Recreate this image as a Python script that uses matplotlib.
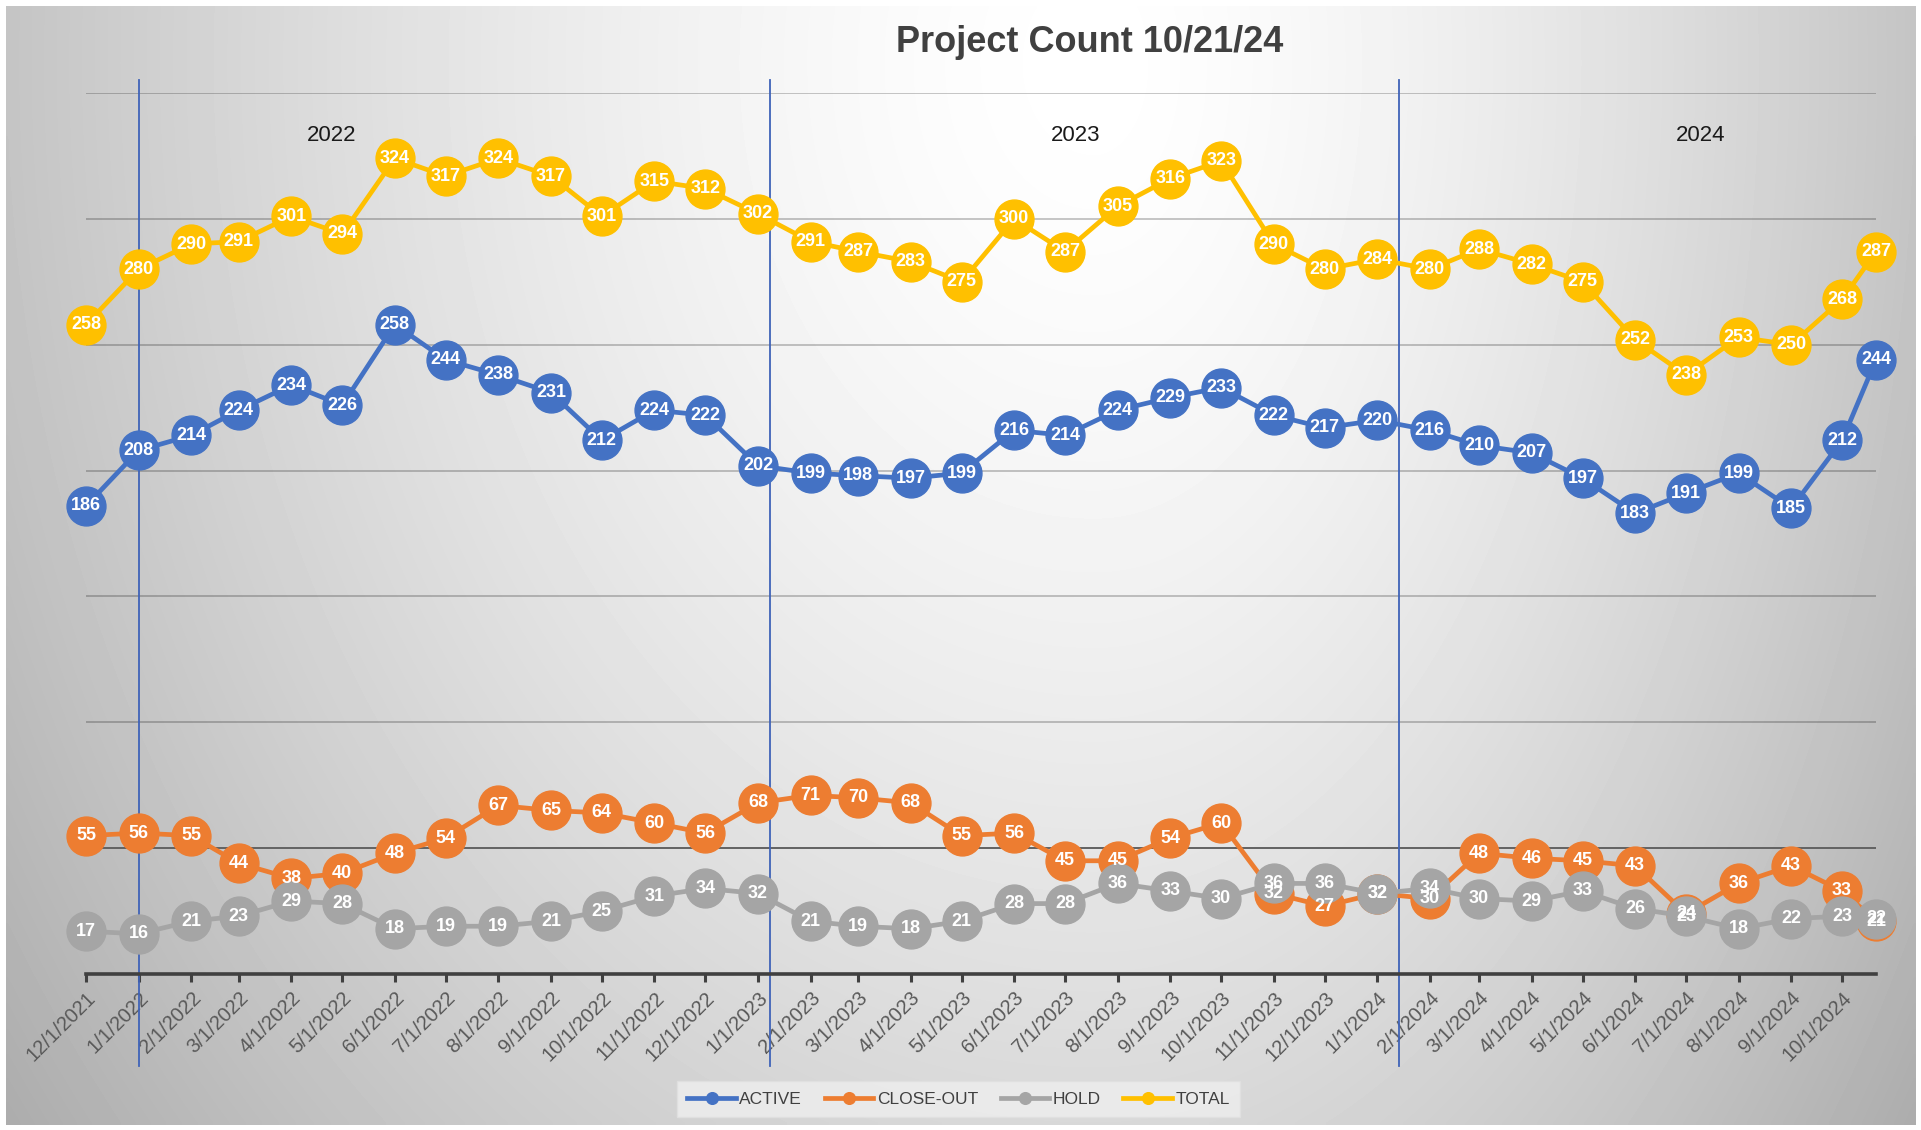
import numpy as np
import pandas as pd
import matplotlib
matplotlib.use("Agg")
import matplotlib.pyplot as plt
import matplotlib.dates as mdates
import matplotlib.transforms as mtrans

# report dates: first of each month, plus the current report date
dates = list(pd.date_range("2021-12-01", "2024-10-01", freq="MS")) + [pd.Timestamp("2024-10-21")]

active = [186, 208, 214, 224, 234, 226, 258, 244, 238, 231, 212, 224, 222, 202, 199, 198, 197, 199,
          216, 214, 224, 229, 233, 222, 217, 220, 216, 210, 207, 197, 183, 191, 199, 185, 212, 244]
close_out = [55, 56, 55, 44, 38, 40, 48, 54, 67, 65, 64, 60, 56, 68, 71, 70, 68, 55,
             56, 45, 45, 54, 60, 32, 27, 32, 30, 48, 46, 45, 43, 24, 36, 43, 33, 21]
hold = [17, 16, 21, 23, 29, 28, 18, 19, 19, 21, 25, 31, 34, 32, 21, 19, 18, 21,
        28, 28, 36, 33, 30, 36, 36, 32, 34, 30, 29, 33, 26, 23, 18, 22, 23, 22]
total = [258, 280, 290, 291, 301, 294, 324, 317, 324, 317, 301, 315, 312, 302, 291, 287, 283, 275,
         300, 287, 305, 316, 323, 290, 280, 284, 280, 288, 282, 275, 252, 238, 253, 250, 268, 287]

series_names = ["ACTIVE", "CLOSE-OUT", "HOLD", "TOTAL"]
series_vals = [active, close_out, hold, total]
colors = ["#4472C4", "#ED7D31", "#A5A5A5", "#FFC000"]

year_labels = ["2022", "2023", "2024"]
year_lines = [pd.Timestamp("2022-01-01"), pd.Timestamp("2023-01-08"), pd.Timestamp("2024-01-14")]

plt.rcParams["font.family"] = ["Liberation Sans", "DejaVu Sans"]

fig = plt.figure(figsize=(19.21, 11.30), dpi=100)
fig.patch.set_facecolor("white")

# grey radial-ish background like the Excel chart area
bg = fig.add_axes([0.003, 0.004, 0.994, 0.991], zorder=-10)
gx, gy = np.meshgrid(np.linspace(0, 1, 400), np.linspace(1, 0, 240))
cx = 0.57
dx = np.where(gx < cx, (gx - cx) / cx, (gx - cx) / (1 - cx))
dy = (0.95 - gy) * 0.8
d = np.sqrt(dx ** 2 + dy ** 2)
v = np.clip(1 - 0.23 * d ** 1.5, 0, 1)
bg.imshow(v, cmap="gray", vmin=0, vmax=1, aspect="auto", interpolation="bilinear")
bg.axis("off")

ax = fig.add_axes([0.0448, 0.138, 0.9318, 0.7797])
ax.patch.set_alpha(0)

for i, (name, vals, c) in enumerate(zip(series_names, series_vals, colors)):
    ax.plot(dates, vals, color=c, lw=3.4, marker="o", ms=28, mec=c, mfc=c,
            label=name, zorder=3 + i, clip_on=False, solid_joinstyle="round")

for vals in series_vals:
    for x, y in zip(dates, vals):
        ax.text(x, y, str(y), color="white", fontsize=13, fontweight="bold",
                ha="center", va="center", zorder=20, clip_on=False)

ax.set_xlim(dates[0], dates[-1])
ax.set_ylim(0, 350)
ax.set_yticks(range(50, 351, 50))
ax.tick_params(axis="y", left=False, labelleft=False)
ax.grid(axis="y", color="black", alpha=0.28, lw=1.1, zorder=0)
ax.axhline(50, color="#7f7f7f", lw=1.4, zorder=1)

for s in ["left", "right", "top"]:
    ax.spines[s].set_visible(False)
ax.spines["bottom"].set_color("#404040")
ax.spines["bottom"].set_linewidth(2.6)

ax.xaxis.set_major_locator(mdates.MonthLocator())
ax.xaxis.set_major_formatter(mdates.DateFormatter("%-m/%-d/%Y"))
ax.tick_params(axis="x", length=6, width=2.2, color="#404040", pad=4,
               labelsize=14.5, labelcolor="#595959")
for lab in ax.get_xticklabels():
    lab.set_rotation(45)
    lab.set_ha("right")
    lab.set_rotation_mode("anchor")

# year separators and labels
trans = mtrans.blended_transform_factory(ax.transData, ax.transAxes)
for d0 in year_lines:
    ax.plot([d0, d0], [-0.104, 1.015], transform=trans, color="#3F63B8", lw=1.3,
            zorder=2, clip_on=False)
for lab, xf in zip(year_labels, [0.137, 0.553, 0.902]):
    ax.text(xf, 0.952, lab, transform=ax.transAxes, fontsize=16, color="#1a1a1a",
            ha="center", va="center")

fig.text(0.567, 0.962, "Project Count 10/21/24", fontsize=26, fontweight="bold",
         color="#404040", ha="center", va="center")

leg = fig.legend(loc="center", bbox_to_anchor=(0.499, 0.027), ncol=4, frameon=True,
                 fontsize=12.5, markerscale=0.3, handlelength=2.8,
                 columnspacing=1.3, handletextpad=0.2, fancybox=False, borderpad=0.6)
leg.get_frame().set_facecolor("#ececec")
leg.get_frame().set_edgecolor("#e0e0e0")
leg.get_frame().set_alpha(0.9)
for t in leg.get_texts():
    t.set_color("#404040")

fig.savefig("out.png", dpi=100)
